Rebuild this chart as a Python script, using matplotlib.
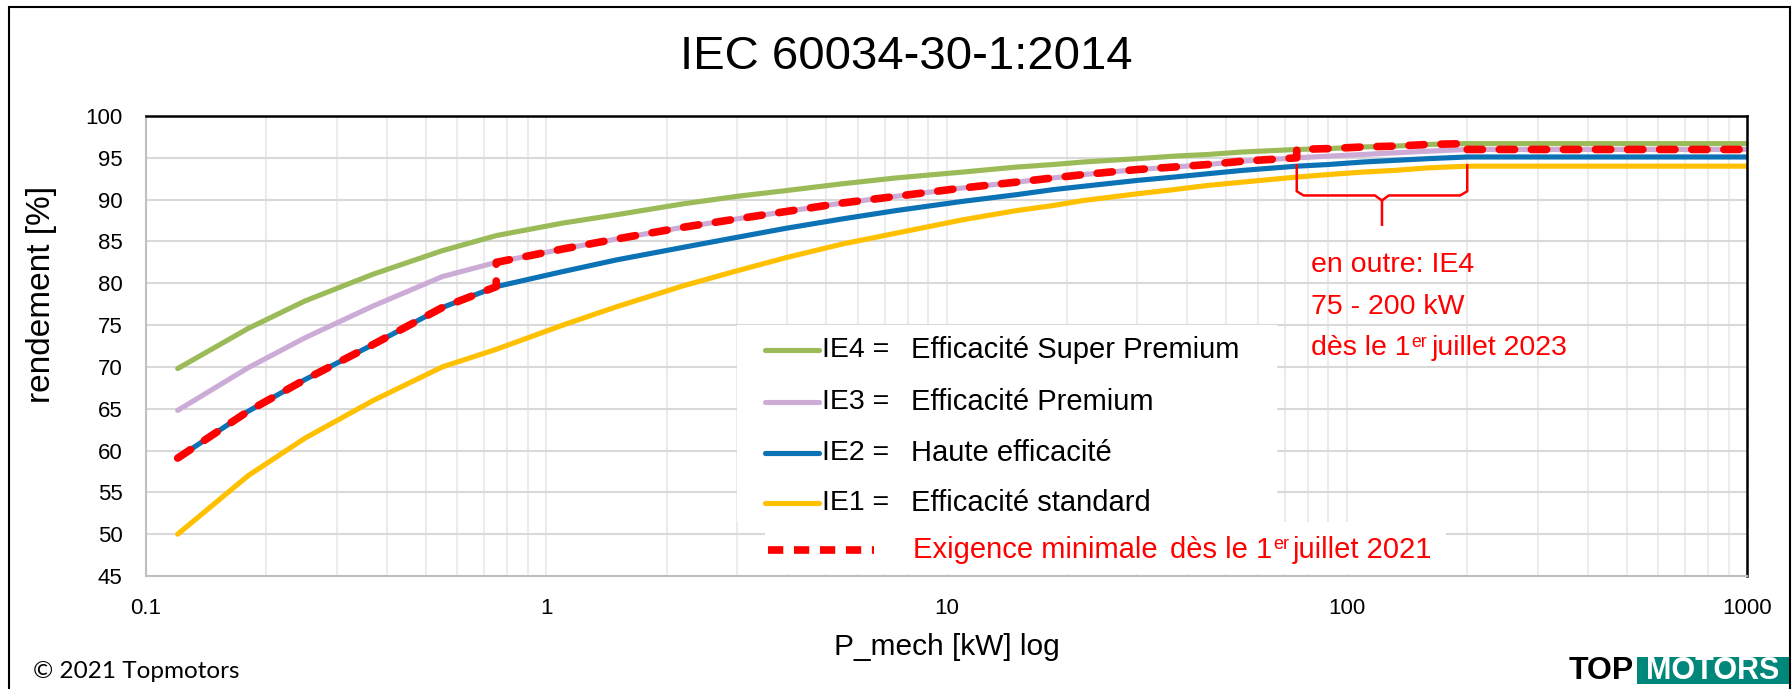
# IEC 60034-30-1:2014 efficiency classes (4 poles, 50 Hz)

import matplotlib.pyplot as plt
from matplotlib.lines import Line2D
from matplotlib.patches import Rectangle
from matplotlib.ticker import FixedLocator, NullFormatter

plt.rcParams['font.family'] = ['Liberation Sans', 'DejaVu Sans']

# -----------------------------
# Data
# -----------------------------
p_kw = [0.12, 0.18, 0.25, 0.37, 0.55, 0.75, 1.1, 1.5, 2.2, 3, 4, 5.5, 7.5, 11, 15,
        18.5, 22, 30, 37, 45, 55, 75, 90, 110, 132, 160, 200, 1000]
ie1 = [50.0, 57.0, 61.5, 66.0, 70.0, 72.1, 75.0, 77.2, 79.7, 81.5, 83.1, 84.7, 86.0, 87.6,
       88.7, 89.3, 89.9, 90.7, 91.2, 91.7, 92.1, 92.7, 93.0, 93.3, 93.5, 93.8, 94.0, 94.0]
ie2 = [59.1, 64.7, 68.5, 72.7, 77.1, 79.6, 81.4, 82.8, 84.3, 85.5, 86.6, 87.7, 88.7, 89.8,
       90.6, 91.2, 91.6, 92.3, 92.7, 93.1, 93.5, 94.0, 94.2, 94.5, 94.7, 94.9, 95.1, 95.1]
ie3 = [64.8, 69.9, 73.5, 77.3, 80.8, 82.5, 84.1, 85.3, 86.7, 87.7, 88.6, 89.6, 90.4, 91.4,
       92.1, 92.6, 93.0, 93.6, 93.9, 94.2, 94.6, 95.0, 95.2, 95.4, 95.6, 95.8, 96.0, 96.0]
ie4 = [69.8, 74.6, 77.9, 81.1, 83.9, 85.7, 87.2, 88.2, 89.5, 90.4, 91.1, 91.9, 92.6, 93.3,
       93.9, 94.2, 94.5, 94.9, 95.2, 95.4, 95.7, 96.0, 96.1, 96.3, 96.4, 96.6, 96.7, 96.7]

# minimum requirement: IE2 below 0.75 kW, IE3 from 0.75 kW, IE4 between 75 and 200 kW
i075 = p_kw.index(0.75)
i75 = p_kw.index(75)
i200 = p_kw.index(200)
min_x = p_kw[:i075 + 1] + p_kw[i075:i75 + 1] + p_kw[i75:i200 + 1] + p_kw[i200:]
min_y = ie2[:i075 + 1] + ie3[i075:i75 + 1] + ie4[i75:i200 + 1] + ie3[i200:]

x_ticks = [0.1, 1, 10, 100, 1000]
x_tick_labels = ['0.1', '1', '10', '100', '1000']
y_ticks = list(range(45, 101, 5))
brace_kw = [75, 200]

series = [('IE4 =', 'Efficacité Super Premium', ie4, '#9bbb59'),
          ('IE3 =', 'Efficacité Premium', ie3, '#ccabd6'),
          ('IE2 =', 'Haute efficacité', ie2, '#0b72b5'),
          ('IE1 =', 'Efficacité standard', ie1, '#ffc000')]

RED = '#ff0000'

# -----------------------------
# Figure
# -----------------------------
W, H = 1792, 689
fig = plt.figure(figsize=(W / 100, H / 100), dpi=100)
ax = fig.add_axes([146 / W, 1 - 576 / H, 1601 / W, 460 / H])
renderer = fig.canvas.get_renderer()

def fx(px):
    return px / W

def fy(py):
    return 1 - py / H

def text_sup(px, py, before, sup, after, size, color):
    # text with a small raised "er"
    t = fig.text(fx(px), fy(py), before, fontsize=size, color=color, va='center')
    w = t.get_window_extent(renderer).width
    s = fig.text(fx(px + w + 1), fy(py - size * 0.28), sup, fontsize=size * 0.62,
                 color=color, va='center')
    w2 = s.get_window_extent(renderer).width
    fig.text(fx(px + w + w2 + 5), fy(py), after, fontsize=size, color=color, va='center')

for _, _, vals, col in series[::-1]:
    ax.plot(p_kw, vals, color=col, lw=3.7, solid_capstyle='round', zorder=2)
ax.plot(min_x, min_y, color=RED, lw=5.5, linestyle=(0, (2.0, 2.2)),
        dash_capstyle='round', zorder=3)

ax.set_xscale('log')
ax.set_xlim(0.1, 1000)
ax.set_ylim(45, 100)
ax.set_xticks(x_ticks)
ax.set_xticklabels(x_tick_labels)
ax.xaxis.set_minor_locator(FixedLocator([m * 10.0 ** e for e in range(-1, 3) for m in range(2, 10)]))
ax.xaxis.set_minor_formatter(NullFormatter())
ax.set_yticks(y_ticks)
ax.tick_params(axis='both', which='both', length=0, labelsize=16)
ax.tick_params(axis='y', pad=17)
ax.tick_params(axis='x', pad=16)

ax.set_axisbelow(True)
ax.grid(True, axis='y', which='major', color='#d9d9d9', lw=1.5)
ax.grid(True, axis='x', which='both', color='#ececec', lw=1.5)

for side in ['left', 'bottom']:
    ax.spines[side].set_color('#bfbfbf')
    ax.spines[side].set_linewidth(1.5)
for side in ['top', 'right']:
    ax.spines[side].set_color('black')
    ax.spines[side].set_linewidth(1.8)

ax.set_xlabel('P_mech [kW] log', fontsize=21.5)
ax.xaxis.set_label_coords(0.5, (576 - 633) / 460)
ax.set_ylabel('rendement [%]', fontsize=24)
ax.yaxis.set_label_coords((57 - 146) / 1601, (576 - 294) / 460)

fig.text(fx(906), fy(57), 'IEC 60034-30-1:2014', fontsize=34, ha='center', va='center')

# -----------------------------
# Legend (drawn by hand)
# -----------------------------
ax.add_patch(Rectangle((fx(737), fy(522)), fx(540), 197 / H, transform=fig.transFigure,
                       facecolor='white', edgecolor='none', zorder=1.5, clip_on=False))
ax.add_patch(Rectangle((fx(765), fy(574)), fx(681), 52 / H, transform=fig.transFigure,
                       facecolor='white', edgecolor='none', zorder=1.5, clip_on=False))

rows = [350, 402, 453, 503]
for (code, name, _, col), ry in zip(series, rows):
    ax.add_line(Line2D([fx(765), fx(819)], [fy(ry), fy(ry)], transform=fig.transFigure,
                       color=col, lw=3.7, solid_capstyle='round', clip_on=False, zorder=4))
    fig.text(fx(822), fy(ry), code, fontsize=20.5, va='center', ha='left')
    fig.text(fx(911), fy(ry), name, fontsize=21, va='center', ha='left')

ax.add_line(Line2D([fx(768), fx(874)], [fy(550), fy(550)], transform=fig.transFigure,
                   color=RED, lw=5.5, linestyle=(0, (2.0, 1.4)), clip_on=False, zorder=4))
fig.text(fx(913), fy(550), 'Exigence minimale', fontsize=21, color=RED, va='center')
text_sup(1170, 550, 'dès le 1', 'er', 'juillet 2021', 21, RED)

# -----------------------------
# IE4 75-200 kW annotation
# -----------------------------
bx0, bx1 = brace_kw
bxc = (bx0 * bx1) ** 0.5
y_top, y_mid, y_tip = 94.1, 90.5, 87.0
ax.plot([bx0, bx0, bx0 * 1.04, bxc * 0.96, bxc, bxc], [y_top, y_mid + 0.5, y_mid, y_mid, y_mid - 0.6, y_tip],
        color=RED, lw=1.8, zorder=4, clip_on=False)
ax.plot([bxc, bxc * 1.04, bx1 * 0.96, bx1, bx1], [y_mid - 0.6, y_mid, y_mid, y_mid + 0.5, y_top],
        color=RED, lw=1.8, zorder=4, clip_on=False)

fig.text(fx(1311), fy(265), 'en outre: IE4', fontsize=20.5, color=RED, va='center')
fig.text(fx(1311), fy(307), '75 - 200 kW', fontsize=20.5, color=RED, va='center')
text_sup(1311, 348, 'dès le 1', 'er', 'juillet 2023', 20.5, RED)

# -----------------------------
# Frame, copyright, logo
# -----------------------------
fig.add_artist(Rectangle((fx(9), fy(710)), fx(1781), 703 / H, transform=fig.transFigure,
                         facecolor='none', edgecolor='black', lw=1.5))
fig.text(fx(33), fy(672), '© 2021 Topmotors', fontsize=17.5, family=['Lato', 'DejaVu Sans'],
         va='center', ha='left')
fig.text(fx(1634), fy(671), 'TOP', fontsize=23, fontweight='heavy', va='center', ha='right')
fig.add_artist(Rectangle((fx(1637), fy(684)), fx(152), 27 / H, transform=fig.transFigure,
                         facecolor='#00877c', edgecolor='none'))
fig.text(fx(1713), fy(671), 'MOTORS', fontsize=22, fontweight='heavy', color='white',
         va='center', ha='center')

plt.savefig('out.png', dpi=100)
